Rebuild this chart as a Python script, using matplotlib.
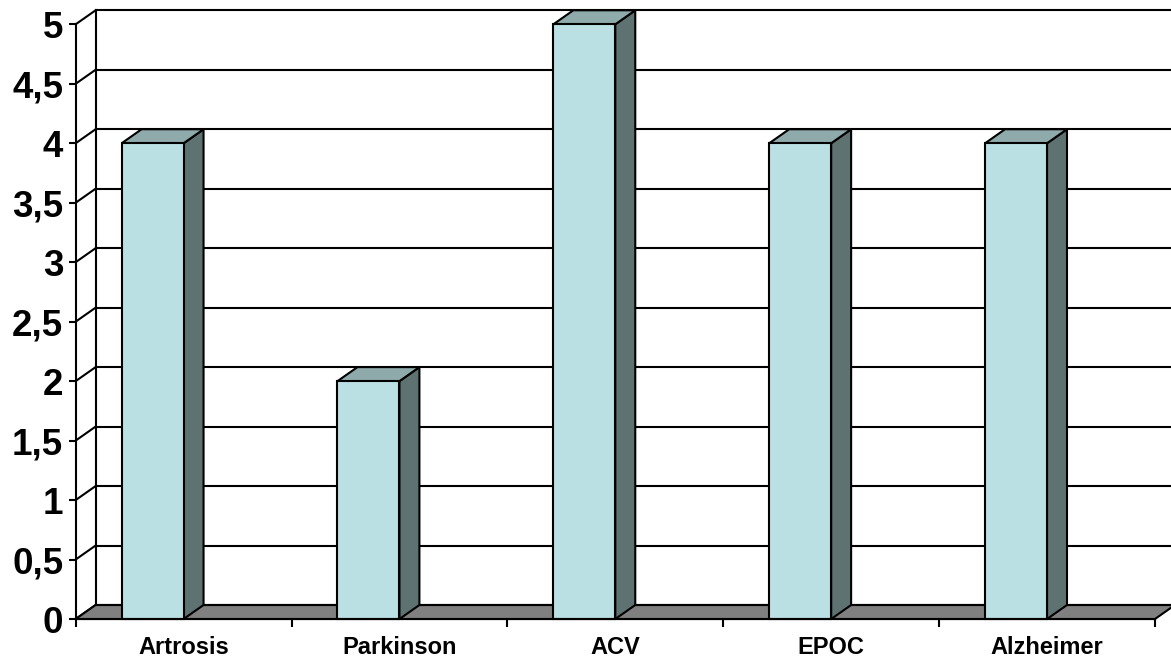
import matplotlib
matplotlib.use("Agg")
import matplotlib.pyplot as plt
from matplotlib.patches import Polygon

plt.rcParams['font.family'] = ['Liberation Sans', 'DejaVu Sans']

categories = ["Artrosis", "Parkinson", "ACV", "EPOC", "Alzheimer"]
values = [4, 2, 5, 4, 4]
y_ticks = [0, 0.5, 1, 1.5, 2, 2.5, 3, 3.5, 4, 4.5, 5]
y_tick_labels = ["0", "0,5", "1", "1,5", "2", "2,5", "3", "3,5", "4", "4,5", "5"]

FRONT = "#BBE0E3"
TOP = "#8FAAAB"
SIDE = "#5E7272"
FLOOR = "#808080"
LW = 1.5

# oblique depth offset (data units)
DX = 0.0925
DY = 0.118
BAR_LEFT = 0.213
BAR_W = 0.287

fig = plt.figure(figsize=(11.71, 6.61), dpi=100)
ax = fig.add_axes([0.0646, 0.0635, 0.9217, 0.8997])
ax.set_xlim(0, len(categories))
ax.set_ylim(0, 5)

ymax = y_ticks[-1]
xmax = len(categories)

# side wall diagonals and back wall gridlines
for v in y_ticks:
    ax.plot([0, DX], [v, v + DY], color="black", lw=LW, clip_on=False, zorder=1,
            solid_capstyle="projecting")
    if v > 0:
        ax.plot([DX, xmax + DX + 0.2], [v + DY, v + DY], color="black", lw=LW,
                clip_on=False, zorder=1)
ax.plot([DX, DX], [DY, ymax + DY], color="black", lw=LW, clip_on=False, zorder=1)

# floor
floor = Polygon([(0, 0), (xmax, 0), (xmax + DX, DY), (DX, DY)], closed=True,
                facecolor=FLOOR, edgecolor="black", lw=LW, clip_on=False, zorder=2)
ax.add_patch(floor)
ax.plot([DX, xmax + DX + 0.2], [DY, DY], color="black", lw=LW, clip_on=False, zorder=2)

# bars
for i, v in enumerate(values):
    x0 = i + BAR_LEFT
    x1 = x0 + BAR_W
    side = Polygon([(x1, 0), (x1 + DX, DY), (x1 + DX, v + DY), (x1, v)], closed=True,
                   facecolor=SIDE, edgecolor="black", lw=LW, clip_on=False, zorder=3,
                   joinstyle="miter")
    top = Polygon([(x0, v), (x1, v), (x1 + DX, v + DY), (x0 + DX, v + DY)], closed=True,
                  facecolor=TOP, edgecolor="black", lw=LW, clip_on=False, zorder=3,
                  joinstyle="miter")
    front = Polygon([(x0, 0), (x1, 0), (x1, v), (x0, v)], closed=True,
                    facecolor=FRONT, edgecolor="black", lw=LW, clip_on=False, zorder=4,
                    joinstyle="miter")
    ax.add_patch(side)
    ax.add_patch(top)
    ax.add_patch(front)

# axes styling
for s in ["top", "right"]:
    ax.spines[s].set_visible(False)
for s in ["left", "bottom"]:
    ax.spines[s].set_linewidth(LW)
    ax.spines[s].set_zorder(5)
ax.patch.set_visible(False)

ax.set_yticks(y_ticks)
ax.set_yticklabels(y_tick_labels, fontsize=26.5, fontweight="bold")
ax.tick_params(axis="y", direction="out", length=5, width=LW, pad=4)

ax.set_xticks(range(xmax + 1))
ax.set_xticklabels([""] * (xmax + 1))
ax.set_xticks([i + 0.5 for i in range(xmax)], minor=True)
ax.set_xticklabels(categories, minor=True, fontsize=17, fontweight="bold")
ax.tick_params(axis="x", which="major", direction="out", length=6, width=LW)
ax.tick_params(axis="x", which="minor", length=0, pad=12)

fig.savefig("out.png", dpi=100)
